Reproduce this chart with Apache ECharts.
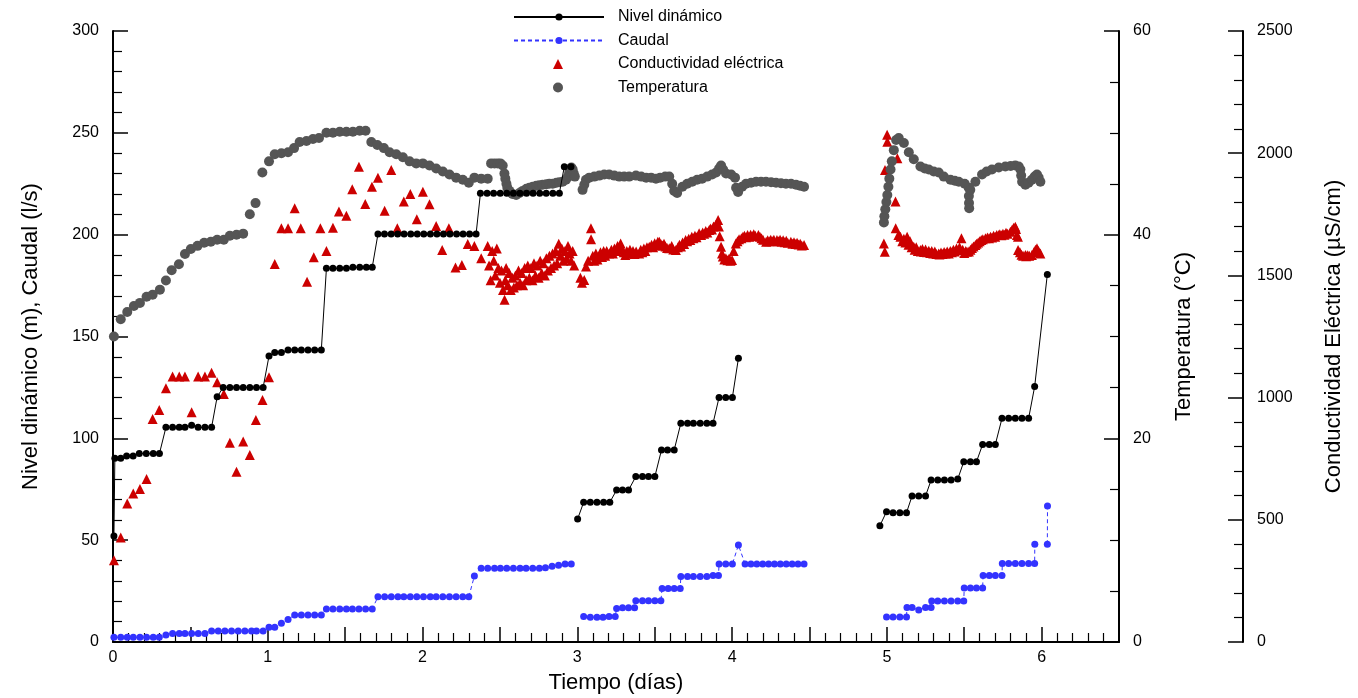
<!DOCTYPE html>
<html>
<head>
<meta charset="utf-8">
<title>Nivel dinámico, caudal, conductividad y temperatura</title>
<script src="https://cdn.jsdelivr.net/npm/echarts@6/dist/echarts.min.js"></script>
<style>
html, body { margin: 0; padding: 0; background: #fff; }
#main { width: 1358px; height: 698px; }
</style>
</head>
<body>
<div id="main"></div>
<script>
// datos: [tiempo (días), valor]
var nivel = [
    [0.006,52],[0.012,90.2],[0.05,90.2],[0.088,91.3],[0.13,91.3],[0.17,92.5],[0.215,92.5],[0.26,92.5],[0.30,92.5],
    [0.342,105.4],[0.385,105.4],[0.428,105.4],[0.465,105.4],[0.508,106.4],[0.55,105.4],[0.594,105.4],[0.637,105.4],
    [0.673,120.4],[0.712,125],[0.755,125],[0.798,125],[0.841,125],[0.884,125],[0.927,125],[0.970,125],
    [1.008,140.4],[1.045,142.2],[1.088,142.2],[1.131,143.4],[1.174,143.4],[1.217,143.4],[1.26,143.4],[1.303,143.4],[1.346,143.4],
    [1.379,183.5],[1.421,183.5],[1.465,183.5],[1.508,183.5],[1.55,184],[1.594,184],[1.637,184],[1.675,184],
    [1.712,200.3],[1.754,200.3],[1.797,200.3],[1.839,200.3],[1.881,200.3],[1.924,200.3],[1.966,200.3],[2.008,200.3],
    [2.051,200.3],[2.093,200.3],[2.135,200.3],[2.177,200.3],[2.220,200.3],[2.262,200.3],[2.304,200.3],[2.346,200.3],
    [2.374,220.3],[2.417,220.3],[2.459,220.3],[2.502,220.3],[2.544,220.3],[2.587,220.3],[2.629,220.3],[2.672,220.3],
    [2.714,220.3],[2.757,220.3],[2.799,220.3],[2.842,220.3],[2.884,220.3],[2.916,233.4],[2.959,233.4],
    [2.98,null],
    [3.002,60.4],[3.041,68.6],[3.084,68.6],[3.127,68.6],[3.17,68.6],[3.21,68.6],[3.254,74.6],[3.292,74.6],[3.331,74.6],
    [3.378,81.2],[3.421,81.2],[3.46,81.2],[3.501,81.2],[3.544,94.3],[3.583,94.3],[3.626,94.3],
    [3.669,107.4],[3.712,107.4],[3.75,107.4],[3.794,107.4],[3.837,107.4],[3.877,107.4],
    [3.916,120.1],[3.959,120.1],[4.002,120.1],[4.041,139.3],
    [4.5,null],
    [4.955,57.1],[4.998,64],[5.04,63.5],[5.084,63.5],[5.127,63.5],[5.163,71.7],[5.206,71.7],[5.25,71.7],
    [5.286,79.5],[5.329,79.5],[5.372,79.5],[5.415,79.5],[5.458,80],[5.497,88.5],[5.54,88.5],[5.579,88.5],
    [5.619,97],[5.662,97],[5.701,97],[5.744,109.8],[5.787,109.8],[5.83,109.8],[5.873,109.8],[5.916,109.8],
    [5.955,125.4],[6.037,180.5]
];

var caudal = [
    [0.006,2.3],[0.05,2.3],[0.092,2.3],[0.131,2.3],[0.174,2.3],[0.217,2.3],[0.26,2.3],[0.299,2.3],
    [0.342,3.4],[0.385,4.2],[0.428,4.2],[0.465,4.2],[0.508,4.2],[0.551,4.2],[0.594,4.2],
    [0.637,5.4],[0.680,5.4],[0.723,5.4],[0.766,5.4],[0.809,5.4],[0.852,5.4],[0.895,5.4],[0.927,5.4],[0.970,5.4],
    [1.008,7.2],[1.045,7.2],[1.088,9.2],[1.131,11.1],[1.174,13.3],[1.217,13.3],[1.26,13.3],[1.303,13.3],[1.346,13.3],
    [1.379,16.2],[1.421,16.2],[1.465,16.2],[1.508,16.2],[1.547,16.2],[1.589,16.2],[1.632,16.2],[1.675,16.2],
    [1.712,22.2],[1.755,22.2],[1.798,22.2],[1.841,22.2],[1.879,22.2],[1.921,22.2],[1.963,22.2],[2.006,22.2],
    [2.05,22.2],[2.088,22.2],[2.131,22.2],[2.174,22.2],[2.217,22.2],[2.26,22.2],[2.299,22.2],
    [2.335,32.4],
    [2.379,36.2],[2.421,36.2],[2.465,36.2],[2.503,36.2],[2.544,36.2],[2.587,36.2],[2.630,36.2],[2.669,36.2],
    [2.712,36.2],[2.755,36.2],[2.794,36.5],[2.837,37.2],[2.879,37.7],[2.921,38.3],[2.961,38.3],
    [2.99,null],
    [3.041,12.5],[3.084,12.2],[3.127,12.2],[3.166,12.2],[3.205,12.5],[3.245,12.5],
    [3.254,16.5],[3.292,16.8],[3.331,16.8],[3.37,16.8],
    [3.378,20.3],[3.421,20.3],[3.46,20.3],[3.501,20.3],[3.54,20.3],
    [3.548,26.3],[3.587,26.3],[3.626,26.3],[3.665,26.3],
    [3.669,32.1],[3.712,32.1],[3.75,32.1],[3.794,32.1],[3.837,32.1],[3.877,32.6],[3.912,32.6],
    [3.916,38.3],[3.959,38.3],[4.002,38.3],[4.041,47.6],
    [4.084,38.3],[4.122,38.3],[4.16,38.3],[4.198,38.3],[4.236,38.3],[4.274,38.3],[4.312,38.3],[4.35,38.3],
    [4.388,38.3],[4.426,38.3],[4.465,38.3],
    [4.7,null],
    [4.998,12.3],[5.04,12.3],[5.084,12.3],[5.127,12.3],
    [5.13,16.9],[5.163,16.9],[5.206,15.7],[5.25,16.9],[5.286,16.9],
    [5.29,20.1],[5.329,20.1],[5.372,20.1],[5.415,20.1],[5.458,20.1],[5.497,20.1],
    [5.50,26.5],[5.54,26.5],[5.579,26.5],[5.619,26.5],
    [5.622,32.7],[5.662,32.7],[5.701,32.7],[5.744,32.7],
    [5.746,38.6],[5.787,38.6],[5.83,38.6],[5.873,38.6],[5.916,38.6],[5.955,38.6],[5.956,48],
    [6.0,null],
    [6.037,48],[6.038,66.8]
];

var conductividad = [
    [0.006,335],[0.05,428],[0.092,567],[0.131,608],[0.174,626],[0.217,667],[0.256,912],[0.299,949],
    [0.342,1038],[0.385,1086],[0.428,1086],[0.465,1086],[0.508,940],[0.55,1086],[0.594,1086],[0.637,1102],
    [0.673,1063],[0.716,1015],[0.755,815],[0.798,697],[0.841,820],[0.884,765],[0.923,908],[0.966,990],[1.008,1083],
    [1.045,1547],[1.088,1693],[1.131,1693],[1.174,1775],[1.213,1693],[1.254,1474],[1.297,1574],[1.34,1693],
    [1.379,1600],[1.421,1695],[1.46,1761],[1.508,1744],[1.546,1852],[1.589,1945],[1.63,1792],[1.673,1863],
    [1.712,1900],[1.755,1765],[1.798,1931],[1.837,1693],[1.879,1802],[1.921,1833],[1.963,1730],[2.002,1842],
    [2.045,1791],[2.088,1702],[2.127,1604],[2.17,1693],[2.213,1532],[2.254,1543],[2.292,1628],[2.335,1620],
    [2.379,1570],[2.421,1620],
    [2.43,1540],[2.44,1480],[2.45,1600],[2.46,1560],[2.47,1500],[2.48,1610],[2.49,1530],[2.50,1470],[2.51,1520],
    [2.52,1440],[2.53,1400],[2.535,1480],[2.54,1530],[2.55,1460],[2.56,1510],[2.57,1440],[2.58,1490],[2.59,1450],
    [2.60,1500],[2.61,1460],[2.62,1520],[2.63,1470],[2.64,1510],[2.65,1460],[2.66,1530],[2.67,1480],[2.68,1540],
    [2.69,1490],[2.70,1530],[2.71,1480],[2.72,1550],[2.73,1500],[2.74,1540],[2.75,1490],[2.76,1560],[2.77,1510],
    [2.78,1550],[2.79,1500],[2.80,1570],[2.81,1520],[2.82,1580],[2.83,1530],[2.84,1590],[2.85,1540],[2.86,1600],
    [2.87,1550],[2.88,1630],[2.89,1580],[2.90,1610],[2.91,1560],[2.92,1600],[2.93,1570],[2.94,1620],[2.95,1590],
    [2.96,1560],[2.97,1600],[2.98,1540],
    [3.02,1490],[3.03,1470],[3.045,1481],[3.056,1536],[3.07,1560],[3.088,1693],[3.089,1648],[3.10,1580],[3.11,1560],
    [3.12,1590],[3.13,1565],[3.14,1577],[3.15,1595],[3.16,1575],[3.17,1600],[3.18,1580],[3.19,1600],[3.206,1590],
    [3.22,1605],[3.23,1590],[3.24,1610],[3.25,1600],[3.26,1620],[3.27,1610],[3.28,1631],[3.29,1605],[3.30,1595],
    [3.31,1583],[3.32,1600],[3.33,1590],[3.34,1605],[3.35,1590],[3.36,1600],[3.37,1588],[3.38,1598],[3.40,1590],
    [3.41,1605],[3.42,1595],[3.43,1610],[3.44,1600],[3.45,1615],[3.465,1617],[3.48,1625],[3.49,1615],[3.50,1632],
    [3.51,1622],[3.52,1638],[3.53,1638],[3.54,1628],[3.55,1622],[3.56,1630],[3.57,1618],[3.58,1612],[3.594,1611],
    [3.61,1620],[3.62,1606],[3.637,1604],[3.65,1615],[3.66,1625],[3.67,1618],[3.68,1635],[3.69,1628],[3.70,1645],
    [3.71,1640],[3.72,1650],[3.73,1645],[3.74,1658],[3.75,1652],[3.76,1662],[3.77,1656],[3.787,1672],[3.80,1665],
    [3.81,1676],[3.82,1670],[3.83,1682],[3.84,1676],[3.852,1686],[3.86,1692],[3.87,1688],[3.88,1700],[3.895,1706],
    [3.91,1727],[3.915,1700],[3.92,1660],[3.929,1617],[3.935,1590],[3.94,1577],[3.95,1565],[3.96,1570],[3.97,1562],
    [3.98,1568],[3.99,1560],[4.0,1563],[4.01,1600],[4.024,1631],[4.035,1640],[4.045,1648],[4.06,1652],[4.07,1658],
    [4.08,1662],[4.09,1656],[4.10,1665],[4.11,1658],[4.12,1666],[4.13,1660],[4.14,1668],[4.15,1662],[4.17,1665],
    [4.18,1658],[4.19,1652],[4.20,1646],[4.22,1638],[4.23,1644],[4.24,1640],[4.25,1646],[4.26,1640],[4.27,1646],
    [4.29,1645],[4.30,1640],[4.31,1646],[4.32,1638],[4.33,1644],[4.34,1636],[4.35,1642],[4.36,1634],[4.38,1638],
    [4.39,1630],[4.40,1636],[4.41,1628],[4.42,1634],[4.43,1626],[4.44,1630],[4.45,1622],[4.465,1624],
    [4.981,1631],[4.987,1597],[4.988,1931],[5.002,2075],[5.003,2047],[5.056,1802],[5.068,1979],[5.057,1693],
    [5.075,1665],[5.088,1658],[5.10,1640],[5.11,1650],[5.12,1635],[5.131,1658],[5.14,1625],[5.15,1640],[5.16,1615],
    [5.174,1617],[5.18,1605],[5.19,1615],[5.20,1600],[5.217,1604],[5.22,1598],[5.23,1608],[5.24,1596],[5.25,1606],
    [5.26,1595],[5.271,1601],[5.28,1592],[5.29,1600],[5.30,1590],[5.31,1598],[5.32,1588],[5.335,1590],[5.34,1586],
    [5.35,1594],[5.36,1588],[5.37,1596],[5.38,1590],[5.39,1598],[5.40,1590],[5.41,1600],[5.42,1595],[5.43,1605],
    [5.44,1598],[5.45,1610],[5.465,1604],[5.47,1615],[5.482,1652],[5.49,1605],[5.50,1592],[5.51,1600],[5.518,1597],
    [5.53,1598],[5.54,1605],[5.55,1612],[5.56,1618],[5.572,1624],[5.58,1630],[5.59,1635],[5.60,1640],[5.61,1645],
    [5.62,1648],[5.637,1652],[5.65,1655],[5.66,1652],[5.67,1658],[5.68,1655],[5.69,1662],[5.70,1658],[5.71,1665],
    [5.723,1665],[5.73,1668],[5.74,1664],[5.75,1670],[5.76,1666],[5.77,1674],[5.78,1670],[5.798,1679],[5.81,1688],
    [5.82,1695],[5.83,1699],[5.835,1690],[5.84,1665],[5.847,1658],[5.848,1604],[5.86,1595],[5.87,1585],[5.88,1580],
    [5.895,1583],[5.90,1578],[5.91,1582],[5.92,1580],[5.937,1583],[5.95,1595],[5.96,1605],[5.97,1611],[5.98,1600],
    [5.992,1590]
];

var temperatura = [
    [0.006,30.0],[0.05,31.7],[0.092,32.4],[0.135,33.0],[0.174,33.3],[0.217,33.9],[0.256,34.1],[0.303,34.6],
    [0.342,35.5],[0.379,36.5],[0.426,37.1],[0.465,38.1],[0.503,38.6],[0.546,38.9],[0.589,39.2],[0.632,39.3],
    [0.673,39.5],[0.716,39.5],[0.755,39.9],[0.798,40.0],[0.841,40.1],[0.884,42.0],[0.921,43.1],[0.965,46.1],
    [1.008,47.2],[1.045,47.9],[1.088,48.0],[1.131,48.1],[1.17,48.5],[1.206,49.1],[1.25,49.2],[1.292,49.4],
    [1.331,49.5],[1.379,50.0],[1.421,50.0],[1.465,50.1],[1.508,50.1],[1.55,50.1],[1.594,50.2],[1.632,50.2],
    [1.669,49.1],[1.708,48.8],[1.75,48.5],[1.787,48.1],[1.83,47.9],[1.873,47.6],[1.916,47.2],[1.959,47.0],
    [2.002,47.0],[2.045,46.8],[2.088,46.5],[2.131,46.2],[2.174,45.9],[2.217,45.6],[2.26,45.4],[2.299,45.1],
    [2.335,45.6],[2.379,45.5],[2.421,45.5],
    [2.443,47.0],[2.465,47.0],[2.486,47.0],[2.503,47.0],[2.518,46.8],[2.529,46.0],[2.535,45.5],[2.542,45.0],
    [2.548,44.6],[2.561,44.3],[2.581,44.0],[2.605,43.9],[2.626,44.1],[2.647,44.3],[2.671,44.5],[2.69,44.6],
    [2.712,44.7],[2.735,44.8],[2.755,44.85],[2.776,44.9],[2.80,44.95],[2.819,45.0],[2.841,45.0],[2.865,45.1],
    [2.884,45.15],[2.905,45.2],[2.927,45.4],[2.94,45.7],[2.948,46.1],[2.955,46.5],[2.962,46.6],[2.97,46.4],
    [2.977,46.0],[2.984,45.7],
    [3.034,44.4],[3.045,44.9],[3.056,45.4],[3.077,45.6],[3.11,45.7],[3.142,45.8],[3.174,45.9],[3.206,45.9],
    [3.239,45.8],[3.271,45.7],[3.303,45.7],[3.335,45.7],[3.379,45.8],[3.413,45.7],[3.445,45.6],[3.477,45.6],
    [3.508,45.5],[3.535,45.6],[3.568,45.7],[3.594,45.7],[3.613,45.0],[3.626,44.3],[3.645,44.1],[3.679,44.7],
    [3.71,45.0],[3.742,45.2],[3.774,45.4],[3.806,45.5],[3.839,45.7],[3.871,45.9],[3.897,46.1],[3.916,46.5],
    [3.929,46.8],[3.942,46.4],[3.961,46.0],[3.994,45.9],[4.019,45.6],[4.026,44.6],[4.039,44.2],[4.065,44.7],
    [4.09,45.0],[4.123,45.1],[4.155,45.2],[4.187,45.2],[4.219,45.2],[4.252,45.15],[4.284,45.1],[4.316,45.05],
    [4.348,45.0],[4.381,45.0],[4.413,44.9],[4.439,44.8],[4.465,44.7],
    [4.981,41.2],[4.984,41.8],[4.99,42.5],[4.997,43.2],[5.003,43.9],[5.01,44.7],[5.016,45.5],[5.024,46.4],
    [5.032,47.2],[5.045,48.3],[5.06,49.3],[5.077,49.5],[5.11,49.0],[5.142,48.1],[5.174,47.4],[5.217,46.7],
    [5.245,46.5],[5.271,46.4],[5.303,46.2],[5.335,46.1],[5.368,45.7],[5.411,45.4],[5.439,45.3],[5.465,45.2],
    [5.503,45.0],[5.529,44.6],[5.53,43.8],[5.531,43.1],[5.532,42.6],[5.539,44.4],[5.572,45.2],[5.615,45.9],
    [5.645,46.2],[5.679,46.4],[5.723,46.6],[5.766,46.7],[5.80,46.75],[5.83,46.8],[5.852,46.7],[5.863,46.4],
    [5.868,45.8],[5.874,45.2],[5.895,44.9],[5.916,45.1],[5.937,45.4],[5.955,45.7],[5.97,45.9],[5.981,45.6],
    [5.992,45.2]
];

var fuente = 'Liberation Sans, Arial, Helvetica, sans-serif';

var myChart = echarts.init(document.getElementById('main'), null, { renderer: 'canvas' });

var ejeY = function (extra) {
    var base = {
        type: 'value',
        axisLine: { show: true, lineStyle: { color: '#000', width: 2 } },
        axisTick: { show: true, inside: true, length: 15, lineStyle: { color: '#000', width: 1.5 } },
        axisLabel: {
            color: '#000', fontSize: 16, fontFamily: fuente, margin: 14,
            formatter: function (v) { return String(v); }
        },
        splitLine: { show: false },
        nameLocation: 'middle',
        nameTextStyle: { color: '#000', fontSize: 22, fontFamily: fuente }
    };
    return Object.assign(base, extra);
};

var textoLeyenda = { color: '#000', fontSize: 16, fontFamily: fuente };

var option = {
    animation: false,
    backgroundColor: '#fff',
    grid: { left: 113, right: 239, top: 31, bottom: 56, containLabel: false, outerBoundsMode: 'none' },
    legend: [
        {
            // series con línea: icono ancho
            orient: 'vertical',
            left: 508,
            top: 4,
            itemWidth: 90,
            itemHeight: 9,
            itemGap: 7.5,
            textStyle: Object.assign({ padding: [0, 0, 0, 9] }, textoLeyenda),
            data: ['Nivel dinámico', 'Caudal']
        },
        {
            // series de puntos: icono pequeño centrado
            orient: 'vertical',
            left: 548,
            top: 51,
            itemWidth: 10,
            itemHeight: 10,
            itemGap: 7.5,
            textStyle: Object.assign({ padding: [0, 0, 0, 50] }, textoLeyenda),
            data: ['Conductividad eléctrica', 'Temperatura']
        }
    ],
    xAxis: {
        type: 'value',
        min: 0,
        max: 6.5,
        interval: 0.5,
        name: 'Tiempo (días)',
        nameLocation: 'middle',
        nameGap: 30,
        nameTextStyle: { color: '#000', fontSize: 22, fontFamily: fuente },
        axisLine: { onZero: false, lineStyle: { color: '#000', width: 2 } },
        axisTick: { inside: true, length: 15, lineStyle: { color: '#000', width: 1.5 } },
        minorTick: { show: true, splitNumber: 5, length: 9, lineStyle: { color: '#000', width: 1.2 } },
        axisLabel: {
            color: '#000', fontSize: 16, fontFamily: fuente, margin: 8,
            formatter: function (v) { return Math.abs(v - Math.round(v)) < 1e-6 ? String(Math.round(v)) : ''; }
        },
        splitLine: { show: false }
    },
    yAxis: [
        ejeY({
            position: 'left', min: 0, max: 300, interval: 50,
            minorTick: { show: true, splitNumber: 5, length: 9, lineStyle: { color: '#000', width: 1.2 } },
            name: 'Nivel dinámico (m), Caudal (l/s)', nameGap: 71
        }),
        ejeY({
            position: 'right', min: 0, max: 60, interval: 20,
            minorTick: { show: true, splitNumber: 4, length: 9, lineStyle: { color: '#000', width: 1.2 } },
            name: 'Temperatura (°C)', nameGap: 54
        }),
        ejeY({
            position: 'right', offset: 124, min: 0, max: 2500, interval: 500,
            minorTick: { show: true, splitNumber: 5, length: 9, lineStyle: { color: '#000', width: 1.2 } },
            name: 'Conductividad Eléctrica (µS/cm)', nameGap: 80
        })
    ],
    series: [
        {
            name: 'Nivel dinámico',
            type: 'line',
            yAxisIndex: 0,
            data: nivel,
            symbol: 'circle',
            symbolSize: 7,
            showSymbol: true,
            connectNulls: false,
            itemStyle: { color: '#000' },
            lineStyle: { color: '#000', width: 1 }
        },
        {
            name: 'Caudal',
            type: 'line',
            yAxisIndex: 0,
            data: caudal,
            symbol: 'circle',
            symbolSize: 7,
            showSymbol: true,
            connectNulls: false,
            itemStyle: { color: '#3333ff' },
            lineStyle: { color: '#3333ff', width: 1, type: [4, 3] }
        },
        {
            name: 'Conductividad eléctrica',
            type: 'scatter',
            yAxisIndex: 2,
            data: conductividad,
            symbol: 'triangle',
            symbolSize: 10,
            itemStyle: { color: '#cc0000', opacity: 1 }
        },
        {
            name: 'Temperatura',
            type: 'scatter',
            yAxisIndex: 1,
            data: temperatura,
            symbol: 'circle',
            symbolSize: 10,
            itemStyle: { color: '#555555', opacity: 1 }
        }
    ]
};

myChart.setOption(option);
</script>
</body>
</html>
